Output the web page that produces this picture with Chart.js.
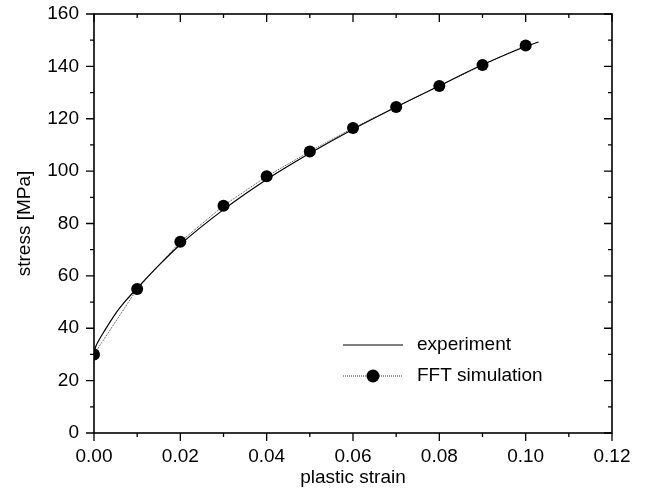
<!DOCTYPE html>
<html><head><meta charset="utf-8">
<script src="https://cdn.jsdelivr.net/npm/chart.js@4.4.1/dist/chart.umd.min.js"></script>
<style>html,body{margin:0;padding:0;background:#fff}#wrap{width:646px;height:496px}</style>
</head><body><div id="wrap"><canvas id="c" width="646" height="496"></canvas></div>
<script>
const expStrain = [0, 0.0003, 0.001, 0.0025, 0.005, 0.0075, 0.01, 0.015, 0.02, 0.03, 0.04, 0.05, 0.06, 0.07, 0.08, 0.09, 0.1, 0.103];
const expStress = [30, 32.5, 35, 39.2, 45.6, 50.8, 55.3, 64, 72, 85.3, 96.8, 106.8, 116, 124.5, 132.6, 140.6, 147.6, 149.3];
const simStrain = [0, 0.01, 0.02, 0.03, 0.04, 0.05, 0.06, 0.07, 0.08, 0.09, 0.1];
const simStress = [30, 55, 73, 86.8, 98, 107.5, 116.5, 124.5, 132.5, 140.5, 148];
const xTicks = [0, 0.02, 0.04, 0.06, 0.08, 0.10, 0.12];
const yTicks = [0, 20, 40, 60, 80, 100, 120, 140, 160];
const seriesNames = ['experiment', 'FFT simulation'];

const FONT = 'Liberation Sans, Arial, Helvetica, sans-serif';
const FS = 19;

const framePlugin = {
  id: 'frame',
  afterDraw(chart) {
    const {ctx, chartArea: a, scales: {x, y}} = chart;
    ctx.save();
    ctx.strokeStyle = '#000';
    ctx.lineWidth = 1.6;
    ctx.strokeRect(a.left, a.top, a.right - a.left, a.bottom - a.top);
    ctx.lineWidth = 1.3;
    ctx.beginPath();
    for (let i = 0; i <= 12; i++) {
      const px = x.getPixelForValue(i / 100);
      const L = i % 2 === 0 ? 8 : 4;
      ctx.moveTo(px, a.bottom); ctx.lineTo(px, a.bottom + L);
      ctx.moveTo(px, a.top); ctx.lineTo(px, a.top + L);
    }
    for (let v = 0; v <= 160; v += 10) {
      const py = y.getPixelForValue(v);
      const L = v % 20 === 0 ? 8 : 4;
      ctx.moveTo(a.left, py); ctx.lineTo(a.left - L, py);
      ctx.moveTo(a.right, py); ctx.lineTo(a.right - L, py);
    }
    ctx.stroke();
    // legend
    const lx0 = 343, lx1 = 403, ly1 = 345, ly2 = 376;
    ctx.lineWidth = 1.2;
    ctx.beginPath(); ctx.moveTo(lx0, ly1); ctx.lineTo(lx1, ly1); ctx.stroke();
    ctx.setLineDash([1, 1]);
    ctx.strokeStyle = '#333';
    ctx.lineWidth = 1;
    ctx.beginPath(); ctx.moveTo(lx0, ly2); ctx.lineTo(lx1, ly2); ctx.stroke();
    ctx.setLineDash([]);
    ctx.fillStyle = '#000';
    ctx.beginPath(); ctx.arc((lx0 + lx1) / 2, ly2, 6.5, 0, Math.PI * 2); ctx.fill();
    ctx.font = FS + 'px ' + FONT;
    ctx.textBaseline = 'middle';
    ctx.textAlign = 'left';
    ctx.fillText(seriesNames[0], 417, ly1);
    ctx.fillText(seriesNames[1], 417, ly2);
    ctx.restore();
  }
};

new Chart(document.getElementById('c'), {
  type: 'scatter',
  data: {
    datasets: [
      {
        label: seriesNames[0],
        data: expStrain.map((v, i) => ({x: v, y: expStress[i]})),
        showLine: true,
        borderColor: '#000',
        borderWidth: 1.2,
        pointRadius: 0,
        cubicInterpolationMode: 'monotone',
        fill: false
      },
      {
        label: seriesNames[1],
        data: simStrain.map((v, i) => ({x: v, y: simStress[i]})),
        showLine: true,
        borderColor: '#444',
        borderWidth: 1,
        borderDash: [1, 1],
        pointRadius: 6,
        pointBackgroundColor: '#000',
        pointBorderColor: '#000',
        pointBorderWidth: 0,
        tension: 0,
        fill: false
      }
    ]
  },
  options: {
    responsive: false,
    animation: false,
    devicePixelRatio: 1,
    layout: {padding: {left: 0, right: 34, top: 14, bottom: 0}},
    plugins: {legend: {display: false}, tooltip: {enabled: false}},
    scales: {
      x: {
        type: 'linear', min: 0, max: 0.12,
        afterBuildTicks(s) { s.ticks = xTicks.map(v => ({value: v})); },
        afterFit(s) { s.height = 63; s.paddingLeft = 0; s.paddingRight = 0; },
        grid: {display: false, drawTicks: false},
        border: {display: false},
        ticks: {padding: 12, color: '#000', font: {family: FONT, size: FS}, callback: v => Number(v).toFixed(2), maxRotation: 0},
        title: {display: true, text: 'plastic strain', color: '#000', font: {family: FONT, size: FS}, padding: {top: 7, bottom: 7}}
      },
      y: {
        type: 'linear', min: 0, max: 160,
        afterBuildTicks(s) { s.ticks = yTicks.map(v => ({value: v})); },
        afterFit(s) { s.width = 94; s.paddingTop = 0; s.paddingBottom = 0; },
        grid: {display: false, drawTicks: false},
        border: {display: false},
        ticks: {padding: 15, color: '#000', font: {family: FONT, size: FS}, callback: v => String(v)},
        title: {display: true, text: 'stress [MPa]', color: '#000', font: {family: FONT, size: FS}, padding: {top: 13, bottom: 0}}
      }
    }
  },
  plugins: [framePlugin]
});
</script>
</body></html>
